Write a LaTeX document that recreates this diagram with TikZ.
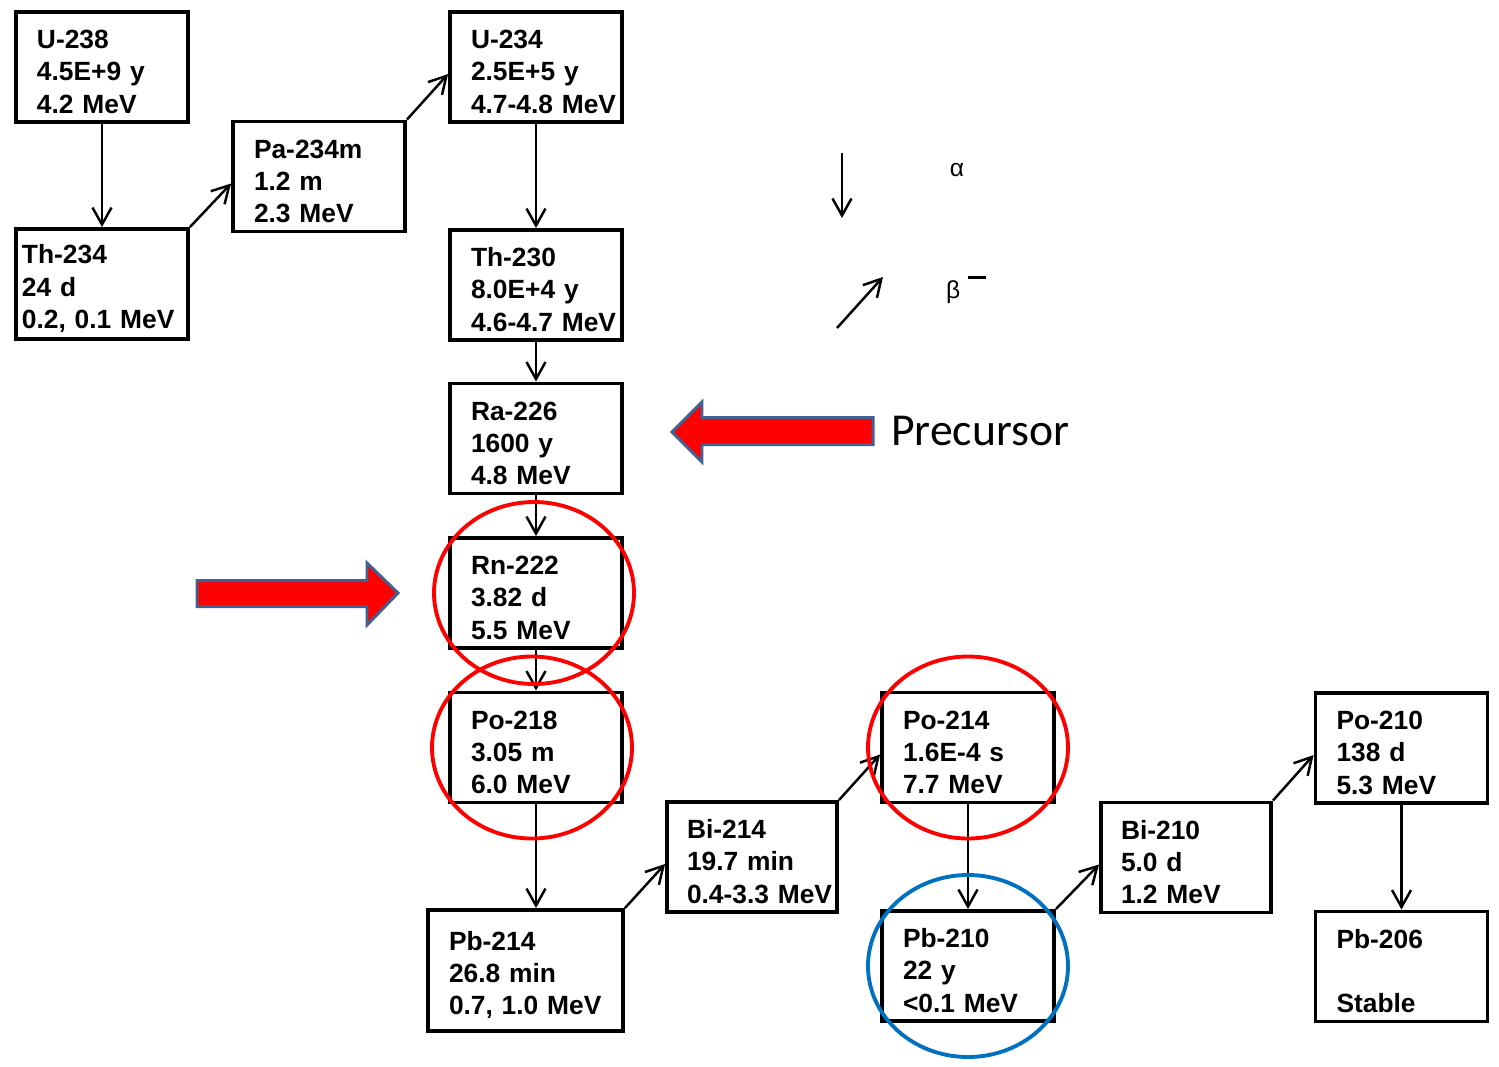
\documentclass[tikz,border=0pt]{standalone}
\usepackage{fontspec}
\usetikzlibrary{arrows.meta}
\newfontfamily\labelfont{Liberation Sans}
\newfontfamily\notefont{Carlito}
\definecolor{arrowedge}{RGB}{66,97,146}
\definecolor{ringblue}{RGB}{0,112,192}

\begin{document}
\begin{tikzpicture}[>={Straight Barb[length=0.34cm,width=0.38cm]},
  nuc/.style={draw,line width=2.2pt,minimum width=3.44cm,minimum height=2.2cm,
    text width=2.6cm,inner xsep=0.42cm,align=left,
    execute at begin node={\rule{0pt}{16pt}},
    font={\labelfont\bfseries\fontsize{15}{18.4}\selectfont\exhyphenpenalty=10000\hbadness=10000\hfuzz=2cm}},
  decay/.style={->,line width=1.4pt},
  ring/.style={line width=2.2pt}]
  \useasboundingbox (0,0) rectangle (29.98,-21.32);

  % chain
  \node[nuc] (u238)   at (2.04,-1.34)   {U-238\\4.5E+9~y\\4.2~MeV};
  \node[nuc,inner xsep=0.12cm,text width=3.2cm] (th234) at (2.04,-5.68) {Th-234\\24~d\\0.2,~0.1~MeV};
  \node[nuc] (pa234m) at (6.38,-3.53)   {Pa-234m\\1.2~m\\2.3~MeV};
  \node[nuc] (u234)   at (10.72,-1.34)  {U-234\\2.5E+5~y\\4.7-4.8~MeV};
  \node[nuc] (th230)  at (10.72,-5.70)  {Th-230\\8.0E+4~y\\4.6-4.7~MeV};
  \node[nuc] (ra226)  at (10.72,-8.77)  {Ra-226\\1600~y\\4.8~MeV};
  \node[nuc] (rn222)  at (10.72,-11.86) {Rn-222\\3.82~d\\5.5~MeV};
  \node[nuc] (po218)  at (10.72,-14.95) {Po-218\\3.05~m\\6.0~MeV};
  \node[nuc,minimum width=3.9cm,minimum height=2.42cm,text width=3.06cm]
    (pb214) at (10.51,-19.41) {Pb-214\\26.8~min\\0.7,~1.0~MeV};
  \node[nuc,minimum width=3.4cm,text width=2.6cm,inner xsep=0.4cm] (bi214) at (15.04,-17.14) {Bi-214\\19.7~min\\0.4-3.3~MeV};
  \node[nuc] (po214)  at (19.36,-14.95) {Po-214\\1.6E-4~s\\7.7~MeV};
  \node[nuc] (pb210)  at (19.36,-19.32) {Pb-210\\22~y\\<0.1~MeV};
  \node[nuc,minimum width=3.4cm,text width=2.6cm,inner xsep=0.4cm] (bi210) at (23.72,-17.15) {Bi-210\\5.0~d\\1.2~MeV};
  \node[nuc] (po210)  at (28.03,-14.96) {Po-210\\138~d\\5.3~MeV};
  \node[nuc] (pb206)  at (28.03,-19.33) {Pb-206\\\mbox{}\\Stable};

  % alpha steps
  \foreach \a/\b in {u238/th234,u234/th230,th230/ra226,ra226/rn222,
                     rn222/po218,po218/pb214,po214/pb210,po210/pb206}
    \draw[decay] (\a.south) -- (\a.south |- \b.north);

  % beta steps
  \foreach \a/\b in {th234/pa234m,pa234m/u234,pb214/bi214,
                     bi214/po214,pb210/bi210,bi210/po210}
    \draw[decay] (\a.north east) -- ([yshift=-4pt]\b.west);

  % legend
  \coordinate (la1) at (16.84,-3.06);
  \coordinate (la2) at (16.84,-4.36);
  \coordinate (lb1) at (16.74,-6.56);
  \coordinate (lb2) at (17.66,-5.54);
  \draw[decay] (la1) -- (la2);
  \draw[decay] (lb1) -- (lb2);
  \node[font={\labelfont\fontsize{14}{16}\selectfont}] (alpha) at (19.14,-3.40) {α};
  \node[font={\labelfont\fontsize{14}{16}\selectfont},anchor=west] (beta) at (18.80,-5.80)
    {β\raisebox{1.55ex}{\hspace{0.3em}\rule{0.75em}{1.3pt}}};

  % pointers
  \draw[arrowedge,fill=red,line width=1.7pt]
    (17.46,-8.35) -- (14.04,-8.35) -- (14.04,-8.04) -- (13.44,-8.64)
    -- (14.04,-9.24) -- (14.04,-8.89) -- (17.46,-8.89) -- cycle;
  \node[font={\notefont\fontsize{26}{30}\selectfont},anchor=west] (prec) at (17.70,-8.62) {Precursor};
  \draw[arrowedge,fill=red,line width=1.7pt]
    (3.94,-11.61) -- (7.34,-11.61) -- (7.34,-11.26) -- (7.96,-11.86)
    -- (7.34,-12.50) -- (7.34,-12.13) -- (3.94,-12.13) -- cycle;

  % highlighted nuclides
  \draw[ring,red] ([xshift=-0.04cm]rn222.center) ellipse (2cm and 1.82cm);
  \draw[ring,red] ([xshift=-0.08cm]po218.center) ellipse (2cm and 1.82cm);
  \draw[ring,red] (po214.center) ellipse (2cm and 1.82cm);
  \draw[ring,ringblue] (pb210.center) ellipse (2cm and 1.82cm);
\end{tikzpicture}
\end{document}
